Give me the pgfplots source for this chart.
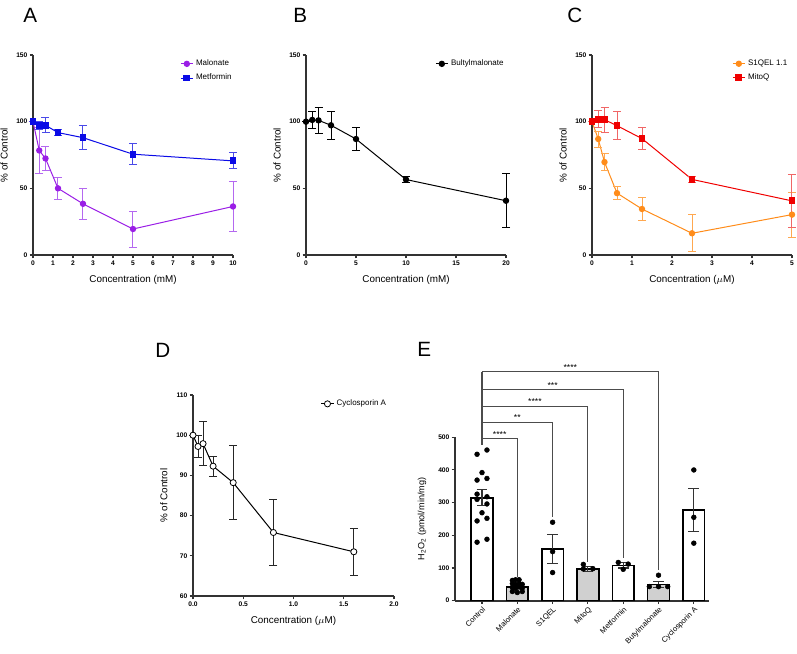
\documentclass[border=0pt]{standalone}
\usepackage{fontspec}
\setmainfont{Liberation Sans}
\usepackage{pgfplots}
\pgfplotsset{compat=1.18}
\definecolor{purp}{HTML}{9A1EE6}
\definecolor{purpL}{HTML}{B468F0}
\definecolor{blu}{HTML}{0A0AE6}
\definecolor{bluL}{HTML}{4A4AE8}
\definecolor{orng}{HTML}{FF8C1A}
\definecolor{orngL}{HTML}{FFA850}
\definecolor{rd}{HTML}{F00000}
\definecolor{rdL}{HTML}{F06666}
\definecolor{axc}{HTML}{333333}
\definecolor{barg}{HTML}{D0D0D0}
\pgfplotsset{
  panel/.style={
    scale only axis, clip=false,
    axis lines=left,
    axis line style={-, line width=1.3pt, axc},
    tick style={axc, line width=0.8pt},
    tick align=outside, major tick length=2.5pt, minor tick num=0,
    tick label style={font=\fontsize{5}{5.5}\selectfont\bfseries, inner sep=1.5pt},
    /pgf/number format/assume math mode=true,
    label style={font=\fontsize{7.4}{8}\selectfont},
    xlabel style={at={(axis description cs:0.5,0)}, anchor=north, yshift=-12pt},
    ylabel style={at={(axis description cs:-0.103,0.5)}, anchor=south},
    legend style={draw=none, fill=none, font=\fontsize{6}{6.5}\selectfont, row sep=0.8pt, inner sep=0pt},
    legend cell align=left,
    legend image code/.code={\draw[mark repeat=2,mark phase=2] plot coordinates {(0cm,0cm) (0.16cm,0cm) (0.32cm,0cm)};},
    error bars/error mark options={rotate=90, mark size=3pt, line width=0.75pt},
  },
  ser/.style={line width=0.75pt, color=#1, mark options={fill=#1, draw=#1}},
}
\begin{document}
\begin{tikzpicture}
\useasboundingbox (0,0) rectangle (597.75pt,-490.5pt);
% panel letters
\node[anchor=base west, inner sep=0pt, font=\fontsize{15.5}{16}\selectfont] at (17.25pt,-16.5pt) {A};
\node[anchor=base west, inner sep=0pt, font=\fontsize{15.5}{16}\selectfont] at (219.75pt,-16.5pt) {B};
\node[anchor=base west, inner sep=0pt, font=\fontsize{15.5}{16}\selectfont] at (425.25pt,-16.5pt) {C};
\node[anchor=base west, inner sep=0pt, font=\fontsize{15.5}{16}\selectfont] at (116.25pt,-267.75pt) {D};
\node[anchor=base west, inner sep=0pt, font=\fontsize{15.5}{16}\selectfont] at (312.75pt,-267pt) {E};

% ---------------- A
\begin{axis}[panel, at={(24.75pt,-191.25pt)}, anchor=south west, width=150pt, height=150pt,
  xmin=0, xmax=10, ymin=0, ymax=150, xtick={0,1,...,10}, ytick={0,50,100,150},
  xlabel={Concentration (mM)}, ylabel={\% of Control},
  legend style={at={(0.735,0.99)}, anchor=north west}]
\addplot[ser=purp, mark=*, mark size=2pt, error bars/.cd, y dir=both, y explicit, error bar style={purpL, line width=0.75pt}]
 coordinates {(0,100)+-(0,0) (0.3125,78.4)+-(0,17) (0.625,72.4)+-(0,9) (1.25,50)+-(0,8.5) (2.5,38.4)+-(0,11.5) (5,19.5)+-(0,13.5) (10,36.4)+-(0,18.5)};
\addlegendentry{Malonate}
\addplot[ser=blu, mark=square*, mark size=2.2pt, error bars/.cd, y dir=both, y explicit, error bar style={bluL, line width=0.75pt}]
 coordinates {(0,100)+-(0,0) (0.3125,97)+-(0,3) (0.625,97.3)+-(0,5.5) (1.25,91.8)+-(0,2) (2.5,88)+-(0,9) (5,75.6)+-(0,8) (10,70.6)+-(0,6)};
\addlegendentry{Metformin}
\end{axis}

% ---------------- B
\begin{axis}[panel, at={(229.5pt,-191.25pt)}, anchor=south west, width=150pt, height=150pt,
  xmin=0, xmax=20, ymin=0, ymax=150, xtick={0,5,...,20}, ytick={0,50,100,150},
  xlabel={Concentration (mM)}, ylabel={\% of Control},
  legend style={at={(0.645,0.99)}, anchor=north west}]
\addplot[ser=black, mark=*, mark size=2pt, error bars/.cd, y dir=both, y explicit, error bar style={black, line width=0.75pt}]
 coordinates {(0,100)+-(0,0) (0.625,101.3)+-(0,6.3) (1.25,101)+-(0,9.7) (2.5,97.3)+-(0,10.4) (5,87)+-(0,8.5) (10,56.6)+-(0,2) (20,40.7)+-(0,20.2)};
\addlegendentry{Bultylmalonate}
\end{axis}

% ---------------- C
\begin{axis}[panel, at={(444pt,-191.25pt)}, anchor=south west, width=150pt, height=150pt,
  xmin=0, xmax=5, ymin=0, ymax=150, xtick={0,1,...,5}, ytick={0,50,100,150},
  xlabel={Concentration ($\mu$M)}, ylabel={\% of Control},
  legend style={at={(0.70,0.99)}, anchor=north west}]
\addplot[ser=orng, mark=*, mark size=2pt, error bars/.cd, y dir=both, y explicit, error bar style={orngL, line width=0.75pt}]
 coordinates {(0,100)+-(0,0) (0.156,87)+-(0,6) (0.3125,69.7)+-(0,6.4) (0.625,46.4)+-(0,5) (1.25,34.5)+-(0,8.8) (2.5,16.3)+-(0,14) (5,30.3)+-(0,16.8)};
\addlegendentry{S1QEL 1.1}
\addplot[ser=rd, mark=square*, mark size=2.2pt, error bars/.cd, y dir=both, y explicit, error bar style={rdL, line width=0.75pt}]
 coordinates {(0,100)+-(0,0) (0.156,101.8)+-(0,6.5) (0.3125,101.5)+-(0,9.5) (0.625,97)+-(0,10.5) (1.25,87.3)+-(0,8.3) (2.5,56.7)+-(0,2) (5,40.6)+-(0,20)};
\addlegendentry{MitoQ}
\end{axis}

% ---------------- D
\begin{axis}[panel, at={(144.75pt,-447pt)}, anchor=south west, width=150.75pt, height=150.75pt,
  xmin=0, xmax=2, ymin=60, ymax=110, xtick={0,0.5,...,2}, ytick={60,70,...,110},
  xticklabel style={/pgf/number format/.cd, fixed, fixed zerofill, precision=1},
  xlabel={Concentration ($\mu$M)}, ylabel={\% of Control},
  legend style={at={(0.635,0.99)}, anchor=north west}]
\addplot[black, line width=0.75pt, mark=*, mark size=2.3pt, mark options={fill=white, draw=black, line width=0.6pt}, error bars/.cd, y dir=both, y explicit, error bar style={black!85, line width=0.75pt}]
 coordinates {(0,100)+-(0,0) (0.05,97.2)+-(0,2.7) (0.1,97.9)+-(0,5.4) (0.2,92.3)+-(0,2.5) (0.4,88.2)+-(0,9.25) (0.8,75.8)+-(0,8.2) (1.6,71)+-(0,5.9)};
\addlegendentry{Cyclosporin A}
\end{axis}

% ---------------- E
\begin{axis}[panel, at={(341.25pt,-450.5pt)}, anchor=south west, width=190.5pt, height=122.55pt,
  xmin=-0.765, xmax=6.43, ymin=0, ymax=500, ytick={0,100,...,500},
  xtick={0,...,6}, xticklabels={Control,Malonate,S1QEL,MitoQ,Metformin,Butylmalonate,Cyclosporin A},
  xticklabel style={font=\fontsize{5.7}{6}\selectfont, rotate=45, anchor=north east, inner sep=1pt},
  ylabel={H\textsubscript{2}O\textsubscript{2} (pmol/min/mg)},
  ylabel style={font=\fontsize{6.8}{7}\selectfont, at={(axis description cs:-0.095,0.5)}, anchor=south},
  error bars/error mark options={rotate=90, mark size=4pt, line width=0.8pt}]
\addplot[ybar, bar width=0.615, bar shift=0pt, fill=white, draw=black, line width=1.2pt,
  error bars/.cd, y dir=both, y explicit, error bar style={black!80, line width=0.8pt}]
 coordinates {(0,315)+-(0,24) (2,158)+-(0,45) (4,108)+-(0,8) (6,277)+-(0,66)};
\addplot[ybar, bar width=0.615, bar shift=0pt, fill=barg, draw=black, line width=1.2pt,
  error bars/.cd, y dir=both, y explicit, error bar style={black!80, line width=0.8pt}]
 coordinates {(1,42)+-(0,5) (3,97)+-(0,8) (5,49)+-(0,10)};
\addplot[only marks, mark=*, mark size=1.8pt, black] coordinates {
 (-0.14,448) (0.14,461) (0,392) (-0.14,369) (0.14,374) (-0.14,326) (0.14,318) (-0.14,310) (0.14,296) (0,269) (-0.14,244) (0.14,252) (-0.14,179) (0.14,188)
 (0.86,62) (0.95,64) (1.05,64) (0.86,52) (0.95,50) (1.05,52) (1.14,50) (0.86,40) (0.95,38) (1.05,42) (1.14,38) (0.86,28) (1.0,25) (1.14,28)
 (2,240) (2,150) (2,86)
 (2.87,111) (2.87,97) (3.14,98)
 (3.86,117) (4,96) (4.14,112)
 (5,78) (4.74,43) (5,43) (5.26,43)
 (6,400) (6,255) (6,176)};
% significance brackets
\draw[black!70, line width=0.8pt] (axis cs:0,700) -- (axis cs:0,476);
\draw[black!70, line width=0.8pt] (axis cs:0,495) -- (axis cs:1,495) -- (axis cs:1,73);
\draw[black!70, line width=0.8pt] (axis cs:0,545) -- (axis cs:2,545) -- (axis cs:2,257);
\draw[black!70, line width=0.8pt] (axis cs:0,595) -- (axis cs:3,595) -- (axis cs:3,119);
\draw[black!70, line width=0.8pt] (axis cs:0,645) -- (axis cs:4,645) -- (axis cs:4,131);
\draw[black!70, line width=0.8pt] (axis cs:0,700) -- (axis cs:5,700) -- (axis cs:5,94);
\node[anchor=south, inner sep=1pt, font=\fontsize{6.5}{7}\selectfont] at (axis cs:0.5,495) {****};
\node[anchor=south, inner sep=1pt, font=\fontsize{6.5}{7}\selectfont] at (axis cs:1.0,545) {**};
\node[anchor=south, inner sep=1pt, font=\fontsize{6.5}{7}\selectfont] at (axis cs:1.5,595) {****};
\node[anchor=south, inner sep=1pt, font=\fontsize{6.5}{7}\selectfont] at (axis cs:2.0,645) {***};
\node[anchor=south, inner sep=1pt, font=\fontsize{6.5}{7}\selectfont] at (axis cs:2.5,700) {****};
\end{axis}
\end{tikzpicture}
\end{document}
